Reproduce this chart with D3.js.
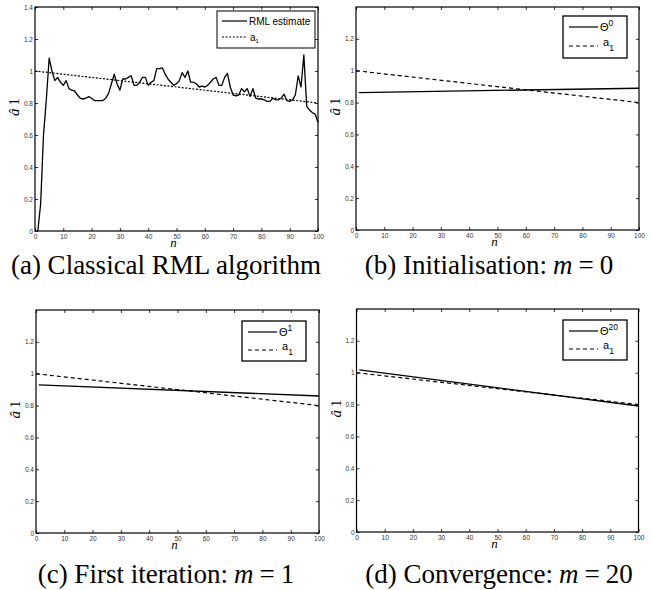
<!DOCTYPE html>
<html>
<head>
<meta charset="utf-8">
<script src="https://cdn.jsdelivr.net/npm/d3@7"></script>
<style>
    body { margin: 0; background: #fff; }
    svg { display: block; }
    .tick text { font-family: "Liberation Sans", Arial, sans-serif; font-size: 6.5px; fill: #333; }
    .legend-text { font-family: "Liberation Sans", Arial, sans-serif; font-size: 10px; fill: #000; }
    .caption { font-family: "Liberation Serif", "Times New Roman", serif; font-size: 27px; fill: #000; }
    .math { font-family: "Liberation Serif", "Times New Roman", serif; font-style: italic; }
</style>
</head>
<body>
<svg id="fig" width="652" height="590"></svg>
<script>
// classical RML estimate of a_1, one value per step n = 1..100
const rmlEstimate = [
    0.00, 0.17, 0.60, 0.82, 1.08, 1.00, 0.94, 0.96, 0.93, 0.91,
    0.94, 0.89, 0.88, 0.875, 0.85, 0.83, 0.825, 0.83, 0.84, 0.83,
    0.815, 0.815, 0.815, 0.815, 0.83, 0.86, 0.92, 0.98, 0.92, 0.88,
    0.95, 0.95, 0.96, 0.97, 0.91, 0.91, 0.93, 0.96, 0.96, 0.91,
    0.93, 0.94, 1.015, 1.015, 1.02, 0.98, 0.95, 0.93, 0.91, 0.92,
    0.94, 0.99, 0.96, 1.00, 0.93, 0.93, 0.92, 0.90, 0.905, 0.90,
    0.91, 0.93, 0.95, 0.96, 0.91, 0.91, 0.96, 0.985, 0.90, 0.85,
    0.845, 0.85, 0.89, 0.87, 0.89, 0.84, 0.89, 0.83, 0.825, 0.825,
    0.82, 0.81, 0.81, 0.83, 0.82, 0.82, 0.83, 0.855, 0.815, 0.81,
    0.82, 0.85, 0.97, 0.90, 1.10, 0.78, 0.755, 0.74, 0.73, 0.68
];
const rmlN = rmlEstimate.map((v, i) => i + 1);

// true parameter a_1 (straight line)
const a1N = [0, 100];
const a1Values = [1.0, 0.8];

// Theta estimates at iterations m = 0, 1, 20 (straight lines)
const thetaN = [1, 100];
const theta0Values = [0.863, 0.89];
const theta1Values = [0.93, 0.86];
const theta20Values = [1.018, 0.791];

const xTicks = [0, 10, 20, 30, 40, 50, 60, 70, 80, 90, 100];
const yTicksFull = [0, 0.2, 0.4, 0.6, 0.8, 1, 1.2, 1.4];
const yTicksShort = [0, 0.2, 0.4, 0.6, 0.8, 1, 1.2];

const zip = (ns, vs) => ns.map((n, i) => ({ n: n, v: vs[i] }));

const svg = d3.select('#fig');

function drawPanel(cfg) {
    const w = cfg.right - cfg.left;
    const h = cfg.bottom - cfg.top;

    const xScale = d3.scaleLinear().domain([0, 100]).range([0, w]);
    const yScale = d3.scaleLinear().domain([0, 1.4]).range([h, 0]);

    const g = svg.append('g')
        .attr('transform', `translate(${cfg.left}, ${cfg.top})`);

    // axes, ticks pointing inward on all four sides
    g.append('g')
        .attr('transform', `translate(0, ${h})`)
        .call(d3.axisBottom(xScale).tickValues(xTicks).tickSize(-3).tickPadding(3).tickFormat(d => d));
    g.append('g')
        .call(d3.axisLeft(yScale).tickValues(cfg.yTicks).tickSize(-3).tickPadding(2).tickFormat(d => d));
    g.append('g')
        .call(d3.axisTop(xScale).tickValues(xTicks).tickSize(-3).tickFormat(''));
    g.append('g')
        .attr('transform', `translate(${w}, 0)`)
        .call(d3.axisRight(yScale).tickValues(cfg.yTicks).tickSize(-3).tickFormat(''));
    g.selectAll('.domain').remove();
    g.selectAll('.tick line').attr('stroke', '#000').attr('stroke-width', 0.8);

    const line = d3.line()
        .x(d => xScale(d.n))
        .y(d => yScale(d.v));

    // true a_1
    g.append('path')
        .datum(zip(a1N, a1Values))
        .attr('fill', 'none')
        .attr('stroke', '#000')
        .attr('stroke-width', 1.2)
        .attr('stroke-dasharray', cfg.dash)
        .attr('d', line);

    // estimate
    g.append('path')
        .datum(cfg.estimate)
        .attr('fill', 'none')
        .attr('stroke', '#000')
        .attr('stroke-width', 1.3)
        .attr('stroke-linejoin', 'round')
        .attr('d', line);

    // box
    g.append('rect')
        .attr('width', w)
        .attr('height', h)
        .attr('fill', 'none')
        .attr('stroke', '#000')
        .attr('stroke-width', 1.2);

    // axis titles
    g.append('text')
        .attr('class', 'math')
        .attr('x', w / 2 - 3)
        .attr('y', h + 16)
        .attr('text-anchor', 'middle')
        .style('font-size', '13px')
        .text('n');

    const yl = g.append('text')
        .attr('class', 'math')
        .attr('transform', `translate(-16, ${h / 2 - 12}) rotate(-90)`)
        .attr('text-anchor', 'middle')
        .style('font-size', '15px');
    yl.append('tspan').text('\u00e2');
    yl.append('tspan').style('font-style', 'normal').attr('dx', 3).text('1');

    // legend
    const lg = svg.append('g')
        .attr('transform', `translate(${cfg.legend.x}, ${cfg.legend.y})`);
    lg.append('rect')
        .attr('width', cfg.legend.w)
        .attr('height', cfg.legend.h)
        .attr('fill', '#fff')
        .attr('stroke', '#000')
        .attr('stroke-width', cfg.legend.stroke);
    const rows = [cfg.legend.row1, cfg.legend.row2];
    rows.forEach((r, i) => {
        lg.append('line')
            .attr('x1', cfg.legend.lineX0)
            .attr('x2', cfg.legend.lineX1)
            .attr('y1', r)
            .attr('y2', r)
            .attr('stroke', '#000')
            .attr('stroke-width', 1.2)
            .attr('stroke-dasharray', i === 0 ? null : cfg.dash);
    });
    const t1 = lg.append('text')
        .attr('class', 'legend-text')
        .attr('x', cfg.legend.lineX1 + 2)
        .attr('y', cfg.legend.row1 + 3.5);
    if (cfg.legend.sup) {
        t1.append('tspan').style('font-size', '11px').text('\u0398');
        t1.append('tspan').attr('dy', -5).style('font-size', '8.5px').text(cfg.legend.sup);
    } else {
        t1.text(cfg.legend.label);
    }
    const t2 = lg.append('text')
        .attr('class', 'legend-text')
        .attr('x', cfg.legend.aX)
        .attr('y', cfg.legend.row2 + (cfg.legend.sup ? 0 : 3.5));
    t2.append('tspan').style('font-size', cfg.legend.sup ? '11px' : '10px').text('a');
    t2.append('tspan').attr('dy', cfg.legend.sup ? 5 : 2.5).style('font-size', cfg.legend.sup ? '8.5px' : '6px').text('1');

    // caption
    const cap = svg.append('text')
        .attr('class', 'caption')
        .attr('x', cfg.caption.x)
        .attr('y', cfg.caption.y)
        .attr('text-anchor', 'middle');
    cap.append('tspan').text(cfg.caption.text);
    if (cfg.caption.m !== undefined) {
        cap.append('tspan').attr('class', 'math').attr('dx', 6).text('m');
        cap.append('tspan').attr('dx', 6).text('=');
        cap.append('tspan').attr('dx', 6).text(cfg.caption.m);
    }
}

drawPanel({
    left: 35, right: 318, top: 7, bottom: 231,
    yTicks: yTicksFull,
    dash: '2,1.6',
    estimate: zip(rmlN, rmlEstimate),
    legend: { x: 217, y: 11, w: 98, h: 37, stroke: 1, row1: 10, row2: 26, lineX0: 5, lineX1: 30, aX: 33, label: 'RML estimate' },
    caption: { x: 166, y: 274, text: '(a) Classical RML algorithm' }
});

drawPanel({
    left: 356, right: 639, top: 7, bottom: 230,
    yTicks: yTicksShort,
    dash: '4,3',
    estimate: zip(thetaN, theta0Values),
    legend: { x: 563, y: 16, w: 64, h: 42, stroke: 1.3, row1: 11, row2: 30, lineX0: 6, lineX1: 35, aX: 40, sup: '0' },
    caption: { x: 489, y: 274, text: '(b) Initialisation:', m: '0' }
});

drawPanel({
    left: 36, right: 319, top: 310, bottom: 533,
    yTicks: yTicksShort,
    dash: '4,3',
    estimate: zip(thetaN, theta1Values),
    legend: { x: 242, y: 321, w: 64, h: 40, stroke: 1.3, row1: 11, row2: 29, lineX0: 6, lineX1: 35, aX: 40, sup: '1' },
    caption: { x: 166, y: 583, text: '(c) First iteration:', m: '1' }
});

drawPanel({
    left: 356.5, right: 638.5, top: 309, bottom: 532,
    yTicks: yTicksShort,
    dash: '4,3',
    estimate: zip(thetaN, theta20Values),
    legend: { x: 563, y: 320, w: 64, h: 40, stroke: 1.3, row1: 11, row2: 29, lineX0: 6, lineX1: 35, aX: 40, sup: '20' },
    caption: { x: 499, y: 583, text: '(d) Convergence:', m: '20' }
});
</script>
</body>
</html>
